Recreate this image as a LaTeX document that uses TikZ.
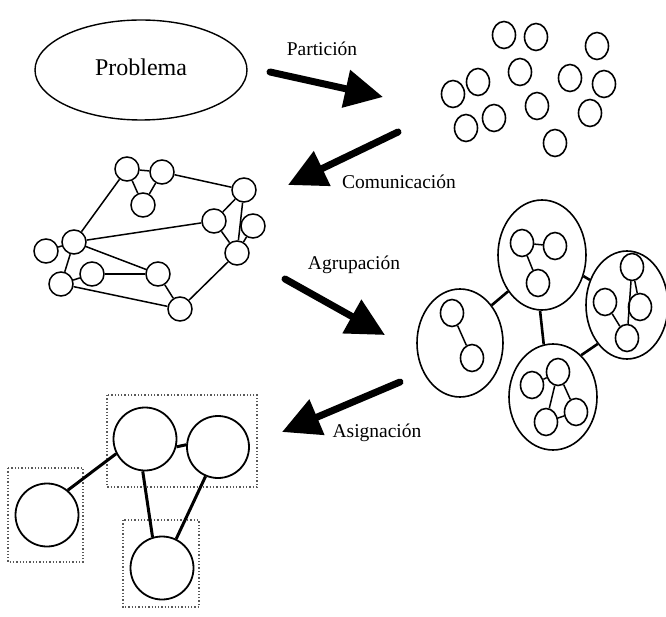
\documentclass[tikz,border=0pt]{standalone}
\usepackage{fontspec}
\setmainfont{Liberation Serif}
\usetikzlibrary{shapes.geometric,arrows.meta}
\begin{document}
\begin{tikzpicture}[x=1pt,y=-1pt,
  dot/.style={ellipse,draw,line width=1.6pt,minimum width=23pt,minimum height=27pt,inner sep=0pt},
  net/.style={circle,draw,line width=1.5pt,minimum size=24pt,inner sep=0pt},
  group/.style={ellipse,draw,line width=1.6pt,inner sep=0pt},
  proc/.style={circle,draw,line width=1.8pt,minimum size=63pt,inner sep=0pt},
  link/.style={line width=1.5pt},
  glink/.style={line width=2.6pt},
  plink/.style={line width=3pt},
  slot/.style={draw=black!65,dotted,line width=1.3pt},
  lbl/.style={font=\fontsize{19.5}{22}\selectfont},
  stage/.style={line width=7pt,line cap=round,-{Triangle[length=38pt,width=37pt]}}
]
\useasboundingbox (0,0) rectangle (666,617);

% ---- Problem ----
\node[ellipse,draw,line width=1.4pt,minimum width=212pt,minimum height=100pt,
      font=\fontsize{24}{28}\selectfont] (prob) at (141,70) {\raisebox{5pt}{Problema}};

% ---- Partition: independent tasks ----
\foreach \n/\x/\y in {t1/504/35, t2/536/37, t3/597/46, t4/520/72, t5/478/82,
  t6/453/94, t7/570/78, t8/604/84, t9/494/118, t10/466/128, t11/537/106,
  t12/590/113, t13/555/143}
  \node[dot] (\n) at (\x,\y) {};

% ---- Communication: task graph ----
\node[net] (a) at (127,169) {};
\node[net] (b) at (162,172) {};
\node[net] (c) at (143,205) {};
\node[net] (d) at (244,190) {};
\node[net] (e) at (214,221) {};
\node[net] (f) at (253,226) {};
\node[net] (g) at (237,253) {};
\node[net] (h) at (74,242) {};
\node[net] (i) at (46,251) {};
\node[net] (j) at (61,284) {};
\node[net] (k) at (92,274) {};
\node[net] (l) at (158,274) {};
\node[net] (m) at (180,309) {};
\foreach \u/\v in {a/b, a/c, b/c, b/d, a/h, d/e, d/g, e/g, f/g, h/e, h/i,
  h/j, h/l, j/k, k/l, j/m, l/m, m/g}
  \draw[link] (\u) -- (\v);

% ---- Agglomeration: grouped tasks ----
\node[group,minimum width=86pt,minimum height=108pt] (g1) at (460,343) {};
\node[group,minimum width=88pt,minimum height=110pt] (g2) at (542,255) {};
\node[group,minimum width=82pt,minimum height=108pt] (g3) at (627,305) {};
\node[group,minimum width=88pt,minimum height=106pt] (g4) at (553,397) {};

\node[dot] (g1a) at (452,313) {};
\node[dot] (g1b) at (472,358) {};
\draw[link] (g1a) -- (g1b);

\node[dot] (g2a) at (522,243) {};
\node[dot] (g2b) at (555,246) {};
\node[dot] (g2c) at (538,283) {};
\draw[link] (g2a) -- (g2b);
\draw[link] (g2a) -- (g2c);

\node[dot] (g3a) at (632,267) {};
\node[dot] (g3b) at (605,302) {};
\node[dot] (g3c) at (640,307) {};
\node[dot] (g3d) at (627,338) {};
\draw[link] (g3a) -- (g3d);
\draw[link] (g3a) -- (g3c);
\draw[link] (g3b) -- (g3d);

\node[dot] (g4a) at (532,385) {};
\node[dot] (g4b) at (558,372) {};
\node[dot] (g4c) at (576,412) {};
\node[dot] (g4d) at (546,422) {};
\draw[link] (g4a) -- (g4b);
\draw[link] (g4b) -- (g4d);
\draw[link] (g4b) -- (g4c);
\draw[link] (g4d) -- (g4c);

\draw[glink] (g1.50) -- (g2.227);
\draw[glink] (g2.268) -- (g4.100);
\draw[glink] (g2.333) -- (g3.146);
\draw[glink] (g3.233) -- (g4.56);

% ---- Mapping: processors ----
\draw[slot] (107,395) rectangle (257,487);
\draw[slot] (8,468) rectangle (83,562);
\draw[slot] (123,520) rectangle (199,607);

\node[proc] (p) at (145,439) {};
\node[proc,minimum size=62pt] (q) at (218,447) {};
\node[proc] (r) at (47,515) {};
\node[proc] (s) at (162,568) {};
\draw[plink] (r.50) -- (p.207);
\draw[plink] (p.346) -- (q.176);
\draw[plink] (p.266) -- (s.107);
\draw[plink] (q.247) -- (s.64);

% ---- Stage arrows and labels ----
\coordinate (pa) at (270,72);   \coordinate (pb) at (383,97);
\coordinate (ca) at (398,132);  \coordinate (cb) at (288,185);
\coordinate (aa) at (285,279);  \coordinate (ab) at (385,335);
\coordinate (sa) at (400,382);  \coordinate (sb) at (282,432);
\draw[stage] (pa) -- (pb);
\draw[stage] (ca) -- (cb);
\draw[stage] (aa) -- (ab);
\draw[stage] (sa) -- (sb);

\node[lbl] (lp) at (322,49) {Partición};
\node[lbl] (lc) at (399,182) {Comunicación};
\node[lbl] (la) at (354,265) {Agrupación};
\node[lbl] (ls) at (377,433) {Asignación};
\end{tikzpicture}
\end{document}
